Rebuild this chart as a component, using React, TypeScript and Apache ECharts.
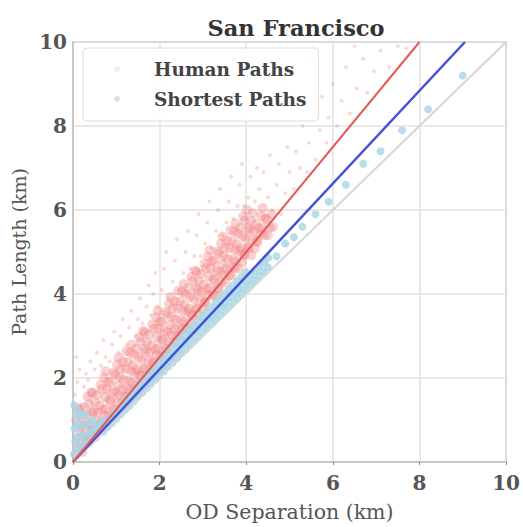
import React, { useEffect, useRef } from "react";
import * as echarts from "echarts";

const titleText = "San Francisco";
const xAxisName = "OD Separation (km)";
const yAxisName = "Path Length (km)";
const axisTicks = [0, 2, 4, 6, 8, 10];

// dense core of the human-path cloud
const humanCore: [number, number][] = [
  [0.06,0.17],[0.13,0.34],[0.09,0.57],[0.145,0.75],[0.07,1.0],[0.12,1.24],
  [0.22,0.24],[0.165,0.42],[0.24,0.62],[0.18,0.84],[0.21,1.06],[0.155,1.29],
  [0.3,0.48],[0.34,0.66],[0.27,0.88],[0.32,1.13],[0.255,1.31],[0.335,1.56],
  [0.36,0.56],[0.43,0.75],[0.39,0.89],[0.445,1.18],[0.37,1.38],[0.42,1.65],
  [0.52,0.6],[0.465,0.78],[0.54,0.98],[0.48,1.2],[0.51,1.42],[0.455,1.65],
  [0.6,0.77],[0.64,0.94],[0.57,1.17],[0.62,1.35],[0.555,1.6],[0.635,1.84],
  [0.66,0.92],[0.73,1.11],[0.69,1.25],[0.745,1.54],[0.67,1.74],[0.72,2.01],
  [0.82,1.08],[0.765,1.26],[0.84,1.48],[0.78,1.73],[0.81,1.91],[0.755,2.16],
  [0.9,1.08],[0.94,1.26],[0.87,1.46],[0.92,1.68],[0.855,1.9],[0.935,2.13],
  [0.96,1.25],[1.03,1.42],[0.99,1.65],[1.045,1.83],[0.97,2.08],[1.02,2.32],
  [1.12,1.4],[1.065,1.59],[1.14,1.73],[1.08,2.02],[1.11,2.22],[1.055,2.49],
  [1.2,1.56],[1.24,1.74],[1.17,1.96],[1.22,2.21],[1.155,2.39],[1.235,2.64],
  [1.26,1.56],[1.33,1.74],[1.29,1.94],[1.345,2.16],[1.27,2.38],[1.32,2.61],
  [1.42,1.73],[1.365,1.9],[1.44,2.13],[1.38,2.31],[1.41,2.56],[1.355,2.8],
  [1.5,1.88],[1.54,2.07],[1.47,2.21],[1.52,2.5],[1.455,2.7],[1.535,2.97],
  [1.56,2.04],[1.63,2.22],[1.59,2.44],[1.645,2.69],[1.57,2.87],[1.62,3.12],
  [1.72,2.04],[1.665,2.22],[1.74,2.42],[1.68,2.64],[1.71,2.86],[1.655,3.09],
  [1.8,2.21],[1.84,2.38],[1.77,2.61],[1.82,2.79],[1.755,3.04],[1.835,3.28],
  [1.86,2.36],[1.93,2.55],[1.89,2.69],[1.945,2.98],[1.87,3.18],[1.92,3.45],
  [2.02,2.52],[1.965,2.7],[2.04,2.92],[1.98,3.17],[2.01,3.35],[1.955,3.6],
  [2.1,2.52],[2.14,2.7],[2.07,2.9],[2.12,3.12],[2.055,3.34],[2.135,3.57],
  [2.16,2.69],[2.23,2.86],[2.19,3.09],[2.245,3.27],[2.17,3.52],[2.22,3.76],
  [2.32,2.84],[2.265,3.03],[2.34,3.17],[2.28,3.46],[2.31,3.66],[2.255,3.93],
  [2.4,3.0],[2.44,3.18],[2.37,3.4],[2.42,3.65],[2.355,3.83],[2.435,4.08],
  [2.46,3.0],[2.53,3.18],[2.49,3.38],[2.545,3.6],[2.47,3.82],[2.52,4.05],
  [2.62,3.17],[2.565,3.34],[2.64,3.57],[2.58,3.75],[2.61,4.0],[2.555,4.24],
  [2.7,3.32],[2.74,3.51],[2.67,3.65],[2.72,3.94],[2.655,4.14],[2.735,4.41],
  [2.76,3.48],[2.83,3.66],[2.79,3.88],[2.845,4.13],[2.77,4.31],[2.82,4.56],
  [2.92,3.48],[2.865,3.66],[2.94,3.86],[2.88,4.08],[2.91,4.3],[2.855,4.53],
  [3.0,3.65],[3.04,3.82],[2.97,4.05],[3.02,4.23],[2.955,4.48],[3.035,4.72],
  [3.06,3.8],[3.13,3.99],[3.09,4.13],[3.145,4.42],[3.07,4.62],[3.12,4.89],
  [3.22,3.96],[3.165,4.14],[3.24,4.36],[3.18,4.61],[3.21,4.79],[3.155,5.04],
  [3.3,3.96],[3.34,4.14],[3.27,4.34],[3.32,4.56],[3.255,4.78],[3.335,5.01],
  [3.36,4.13],[3.43,4.3],[3.39,4.53],[3.445,4.71],[3.37,4.96],[3.42,5.2],
  [3.52,4.28],[3.465,4.47],[3.54,4.61],[3.48,4.9],[3.51,5.1],[3.455,5.37],
  [3.6,4.44],[3.64,4.62],[3.57,4.84],[3.62,5.09],[3.555,5.27],[3.635,5.52],
  [3.66,4.44],[3.73,4.62],[3.69,4.82],[3.745,5.04],[3.67,5.26],[3.72,5.49],
  [3.82,4.61],[3.765,4.78],[3.84,5.01],[3.78,5.19],[3.81,5.44],[3.755,5.68],
  [3.9,4.76],[3.94,4.95],[3.87,5.09],[3.92,5.38],[3.855,5.58],[3.935,5.85],
  [3.96,4.92],[4.03,5.1],[3.99,5.32],[4.045,5.57],[3.97,5.75],[4.02,6.0],
  [4.12,4.92],[4.065,5.1],[4.14,5.3],[4.08,5.52],[4.11,5.74],
  [4.2,5.09],[4.24,5.26],[4.17,5.49],[4.22,5.67],[4.155,5.92],
  [4.26,5.24],[4.33,5.43],[4.29,5.57],[4.345,5.86],
  [4.42,5.4],[4.365,5.58],[4.44,5.8],[4.38,6.05],
  [4.5,5.4],[4.54,5.58],[4.47,5.78],
  [4.62,5.6],[4.58,5.9],
];

// scattered outliers of the human-path cloud
const humanSparse: [number, number][] = [
  [0.05,1.6],[0.1,1.9],[0.15,2.2],[0.08,2.5],[0.25,1.8],[0.3,2.1],[0.4,2.4],[0.35,1.95],[0.5,2.2],[0.55,2.6],
  [0.65,2.3],[0.75,2.5],[0.7,2.9],[0.85,2.4],[0.9,2.8],[0.95,3.1],[1.05,2.6],[1.1,3.0],[1.15,3.4],[1.25,2.8],
  [1.3,3.2],[1.35,3.6],[1.45,3.0],[1.5,3.4],[1.55,3.9],[1.6,3.3],[1.7,3.7],[1.75,4.2],[1.8,3.5],[1.85,4.0],
  [1.9,4.5],[1.95,3.7],[2.05,4.1],[2.1,4.6],[2.15,5.0],[2.2,3.9],[2.3,4.3],[2.35,4.8],[2.4,5.3],[2.45,4.1],
  [2.55,4.5],[2.6,5.0],[2.65,5.5],[2.7,4.6],[2.8,4.9],[2.85,5.4],[2.9,5.9],[2.95,4.9],[3.05,5.2],[3.1,5.7],
  [3.15,6.2],[3.2,5.1],[3.3,5.5],[3.35,6.0],[3.4,6.5],[3.45,5.4],[3.55,5.7],[3.6,6.2],[3.65,6.8],[3.7,5.8],
  [3.8,6.1],[3.85,6.6],[3.9,7.1],[3.95,6.1],[4.05,6.3],[4.1,6.8],[4.2,6.2],[4.25,7.0],[4.3,6.5],[4.4,6.9],
  [4.5,6.3],[4.55,7.3],[4.6,6.0],[4.7,6.6],[4.75,7.1],[4.8,5.9],[4.9,6.4],[4.95,7.5],[5.0,6.9],[5.1,6.5],
  [5.15,7.4],[5.25,7.0],[5.3,8.0],[5.4,6.9],[5.45,7.6],[5.55,8.3],[5.6,7.2],[5.7,7.9],[5.75,8.7],[5.85,7.6],
  [5.9,8.2],[6.0,9.0],[6.1,8.0],[6.2,8.6],[6.3,9.4],[6.4,8.3],[6.55,8.9],[6.7,9.6],[6.8,8.8],[6.95,9.3],
  [7.1,9.8],[7.3,9.4],[7.5,9.9],[5.5,9.5],[4.9,8.9],[6.5,9.9],[7.7,9.85],
];

const shortestPaths: [number, number][] = [
  [0.03,0.2],[0.05,0.5],[0.04,0.8],[0.06,1.1],[0.03,1.35],[0.1,0.3],[0.12,0.6],[0.1,0.9],[0.13,1.2],
  [0.18,0.35],[0.2,0.6],[0.17,0.85],[0.22,1.1],[0.25,0.4],[0.28,0.65],[0.3,0.9],[0.27,1.15],
  [0.35,0.45],[0.38,0.7],[0.36,0.95],[0.42,0.5],[0.45,0.75],[0.44,1.0],[0.5,0.6],[0.53,0.85],
  [0.58,0.7],[0.6,0.9],[0.65,0.75],[0.68,1.0],
  [0.7,0.72],[0.72,0.78],[0.69,0.84],[0.8,0.83],[0.81,0.89],[0.79,0.96],
  [0.9,0.93],[0.91,1.0],[0.89,1.08],[1.0,1.03],[1.02,1.11],[0.99,1.2],
  [1.1,1.13],[1.11,1.22],[1.09,1.32],[1.2,1.24],[1.22,1.33],[1.19,1.44],
  [1.3,1.34],[1.31,1.44],[1.29,1.56],[1.4,1.44],[1.42,1.55],[1.39,1.68],
  [1.5,1.55],[1.51,1.66],[1.49,1.8],[1.6,1.65],[1.62,1.78],[1.59,1.92],
  [1.7,1.75],[1.71,1.89],[1.69,2.04],[1.8,1.85],[1.82,2.0],[1.79,2.16],
  [1.9,1.96],[1.91,2.11],[1.89,2.28],[2.0,2.06],[2.02,2.22],[1.99,2.4],
  [2.1,2.16],[2.11,2.33],[2.09,2.52],[2.2,2.27],[2.22,2.44],[2.19,2.62],
  [2.3,2.37],[2.31,2.55],[2.29,2.72],[2.4,2.47],[2.42,2.66],[2.39,2.83],
  [2.5,2.58],[2.51,2.78],[2.49,2.94],[2.6,2.68],[2.62,2.89],[2.59,3.05],
  [2.7,2.78],[2.71,3.0],[2.69,3.15],[2.8,2.88],[2.82,3.11],[2.79,3.26],
  [2.9,2.99],[2.91,3.22],[2.89,3.36],[3.0,3.09],[3.02,3.3],[2.99,3.47],
  [3.1,3.19],[3.11,3.4],[3.09,3.58],[3.2,3.3],[3.22,3.5],[3.19,3.68],
  [3.3,3.4],[3.31,3.6],[3.29,3.79],[3.4,3.5],[3.42,3.71],[3.39,3.89],
  [3.5,3.61],[3.51,3.81],[3.49,4.0],[3.6,3.71],[3.62,3.92],[3.59,4.1],
  [3.7,3.81],[3.71,4.02],[3.69,4.2],[3.8,3.91],[3.82,4.12],[3.79,4.31],
  [3.9,4.02],[3.91,4.22],[3.89,4.41],[4.0,4.12],[4.02,4.32],[3.99,4.52],
  [4.1,4.22],[4.11,4.45],[4.2,4.33],[4.22,4.55],[4.3,4.43],[4.31,4.66],
  [4.4,4.53],[4.42,4.76],[4.5,4.64],[4.51,4.86],
  [4.7,4.9],[4.9,5.2],[5.1,5.35],[5.3,5.6],[5.6,5.9],[5.9,6.2],
  [6.3,6.6],[6.7,7.1],[7.1,7.4],[7.6,7.9],[8.2,8.4],[9.0,9.2],
];

const redLine: [number, number][] = [[0, 0], [8, 10]];
const blueLine: [number, number][] = [[0, 0], [9.05, 10]];
const diagLine: [number, number][] = [[0, 0], [10, 10]];

const FONT = "DejaVu Serif";
const HUMAN_COLOR = "#f08080";
const SHORT_COLOR = "#a6d6e6";

export default function App() {
  const ref = useRef<HTMLDivElement>(null);
  useEffect(() => {
    const chart = echarts.init(ref.current!, undefined, { renderer: "svg" });
    const labelStyle = {
      fontFamily: FONT,
      fontSize: 20,
      fontWeight: "bold" as const,
      color: "#555",
      formatter: (v: number) => (axisTicks.includes(v) ? String(v) : ""),
    };
    const axisCommon = {
      type: "value" as const,
      min: 0,
      max: 10,
      interval: 2,
      nameLocation: "middle" as const,
      axisLine: { show: true, lineStyle: { color: "#c8c8c8", width: 2 } },
      splitLine: { show: true, lineStyle: { color: "#e2e2e2", width: 1.5 } },
    };
    chart.setOption({
      animation: false,
      backgroundColor: "#fff",
      title: {
        text: titleText,
        left: 291,
        top: 11,
        textAlign: "center",
        textStyle: { fontFamily: FONT, fontSize: 22.5, fontWeight: "bold", color: "#333" },
      },
      legend: {
        left: 83,
        top: 48,
        orient: "vertical",
        itemWidth: 6,
        itemHeight: 6,
        itemGap: 10,
        padding: [11, 12, 12, 31],
        backgroundColor: "rgba(255,255,255,0.85)",
        borderColor: "#dcdcdc",
        borderWidth: 1,
        borderRadius: 4,
        textStyle: {
          fontFamily: FONT,
          fontSize: 18.5,
          fontWeight: "bold",
          color: "#444",
          lineHeight: 20,
          padding: [0, 0, 0, 29],
        },
        data: [
          { name: "Human Paths", icon: "circle", itemStyle: { color: "#f4b4b4" } },
          { name: "Shortest Paths", icon: "circle", itemStyle: { color: "#c4dde6" } },
        ],
      },
      grid: {
        left: 73,
        right: 14,
        top: 42,
        bottom: 53,
        show: true,
        borderColor: "#c8c8c8",
        borderWidth: 2,
      },
      xAxis: {
        ...axisCommon,
        name: xAxisName,
        nameGap: 39,
        nameTextStyle: { fontFamily: FONT, fontSize: 20.5, color: "#555" },
        axisTick: { show: true, length: 3, lineStyle: { color: "#888" } },
        axisLabel: { ...labelStyle, margin: 11 },
      },
      yAxis: {
        ...axisCommon,
        name: yAxisName,
        nameGap: 34,
        nameTextStyle: { fontFamily: FONT, fontSize: 19, color: "#555" },
        axisTick: { show: false },
        axisLabel: { ...labelStyle, margin: 6 },
      },
      series: [
        {
          name: "Human Paths",
          type: "scatter",
          data: humanSparse,
          symbolSize: 4,
          itemStyle: { color: HUMAN_COLOR, opacity: 0.3 },
          z: 2,
        },
        {
          name: "Human Paths",
          type: "scatter",
          data: humanCore,
          symbolSize: 10,
          itemStyle: { color: HUMAN_COLOR, opacity: 0.36 },
          z: 2,
        },
        {
          name: "Shortest Paths",
          type: "scatter",
          data: shortestPaths,
          symbolSize: 8,
          itemStyle: { color: SHORT_COLOR, opacity: 0.8 },
          z: 3,
        },
        {
          name: "diag",
          type: "line",
          data: diagLine,
          symbol: "none",
          lineStyle: { color: "#d6d6d6", width: 2 },
          z: 4,
        },
        {
          name: "blue",
          type: "line",
          data: blueLine,
          symbol: "none",
          lineStyle: { color: "#4452d8", width: 2.5 },
          z: 5,
        },
        {
          name: "red",
          type: "line",
          data: redLine,
          symbol: "none",
          lineStyle: { color: "#e45a5a", width: 2 },
          z: 6,
        },
      ],
    });
    return () => chart.dispose();
  }, []);
  return (
    <div
      ref={ref}
      style={{ position: "fixed", left: 0, top: 0, width: 523, height: 527 }}
    />
  );
}
